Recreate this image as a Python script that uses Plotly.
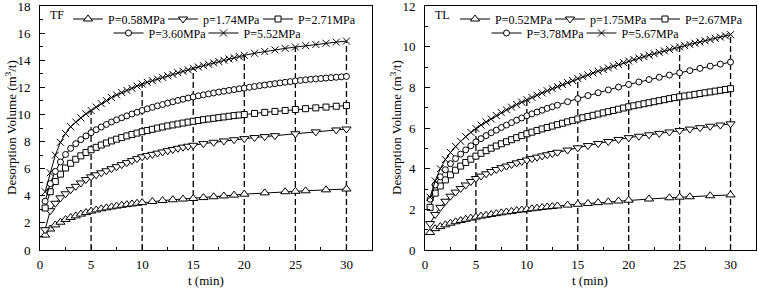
import plotly.graph_objects as go

# ---------------- TF (left panel) ----------------
tf_t_a = [0.5, 1, 1.5, 2, 2.5, 3, 3.5, 4, 4.5, 5, 5.5, 6, 6.5, 7, 7.5, 8, 8.5, 9, 9.5, 10,
          11, 12, 13, 14, 15, 16, 17, 18, 19, 20, 22, 24, 25, 26, 28, 30]
tf_v_a = [1.1, 1.55, 1.85, 2.05, 2.25, 2.4, 2.52, 2.65, 2.76, 2.87, 2.96, 3.04, 3.11, 3.18, 3.24, 3.3, 3.35, 3.4, 3.45, 3.5,
          3.58, 3.65, 3.71, 3.76, 3.8, 3.87, 3.93, 3.99, 4.05, 4.12, 4.22, 4.3, 4.33, 4.37, 4.44, 4.5]

tf_t_b = [0.5, 1, 1.5, 2, 2.5, 3, 3.5, 4, 4.5, 5, 5.5, 6, 6.5, 7, 7.5, 8, 8.5, 9, 9.5, 10,
          10.5, 11, 11.5, 12, 12.5, 13, 13.5, 14, 14.5, 15, 16, 17, 18, 19, 20, 21, 22, 23, 25, 27, 29, 30]
tf_v_b = [1.5, 2.9, 3.45, 3.85, 4.15, 4.45, 4.7, 4.95, 5.2, 5.4, 5.55, 5.7, 5.85, 6.0, 6.15, 6.3, 6.45, 6.6, 6.74, 6.88,
          6.97, 7.06, 7.15, 7.24, 7.33, 7.42, 7.51, 7.59, 7.66, 7.73, 7.85, 7.95, 8.05, 8.14, 8.22, 8.3, 8.37, 8.44, 8.58, 8.72, 8.86, 8.93]

tf_t_c = [0.5, 1, 1.5, 2, 2.5, 3, 3.5, 4, 4.5, 5, 5.5, 6, 6.5, 7, 7.5, 8, 8.5, 9, 9.5, 10,
          10.5, 11, 11.5, 12, 12.5, 13, 13.5, 14, 14.5, 15, 15.5, 16, 16.5, 17, 17.5, 18, 18.5, 19, 19.5, 20,
          21, 22, 23, 24, 25, 26, 27, 28, 29, 30]
tf_v_c = [3.1, 4.3, 5.05, 5.6, 6.05, 6.4, 6.7, 6.95, 7.2, 7.4, 7.58, 7.75, 7.9, 8.05, 8.18, 8.3, 8.42, 8.53, 8.63, 8.73,
          8.82, 8.91, 9.0, 9.08, 9.16, 9.23, 9.3, 9.37, 9.44, 9.5, 9.56, 9.62, 9.67, 9.72, 9.77, 9.82, 9.87, 9.92, 9.96, 10.0,
          10.08, 10.16, 10.23, 10.3, 10.37, 10.43, 10.49, 10.55, 10.61, 10.66]

tf_t_d = [0.5, 1, 1.5, 2, 2.5, 3, 3.5, 4, 4.5, 5, 5.5, 6, 6.5, 7, 7.5, 8, 8.5, 9, 9.5, 10,
          10.5, 11, 11.5, 12, 12.5, 13, 13.5, 14, 14.5, 15, 15.5, 16, 16.5, 17, 17.5, 18, 18.5, 19, 19.5, 20,
          20.5, 21, 21.5, 22, 22.5, 23, 23.5, 24, 24.5, 25, 25.5, 26, 26.5, 27, 27.5, 28, 28.5, 29, 29.5, 30]
tf_v_d = [3.6, 4.9, 5.8, 6.5, 7.05, 7.5, 7.85, 8.15, 8.42, 8.66, 8.88, 9.08, 9.27, 9.45, 9.61, 9.76, 9.9, 10.04, 10.17, 10.3,
          10.42, 10.53, 10.64, 10.74, 10.84, 10.94, 11.04, 11.13, 11.22, 11.3, 11.38, 11.45, 11.52, 11.59, 11.66, 11.72, 11.78, 11.84, 11.9, 11.95,
          12.01, 12.07, 12.13, 12.18, 12.23, 12.28, 12.33, 12.38, 12.43, 12.48, 12.52, 12.56, 12.6, 12.63, 12.66, 12.69, 12.72, 12.75, 12.78, 12.81]

tf_t_e = [0.5, 1, 1.5, 2, 2.5, 3, 3.5, 4, 4.5, 5, 5.5, 6, 6.5, 7, 7.5, 8, 8.5, 9, 9.5, 10,
          10.5, 11, 11.5, 12, 12.5, 13, 13.5, 14, 14.5, 15, 15.5, 16, 16.5, 17, 17.5, 18, 18.5, 19, 19.5, 20,
          21, 22, 23, 24, 25, 26, 27, 28, 29, 30]
tf_v_e = [4.3, 5.7, 7.0, 7.95, 8.6, 9.1, 9.45, 9.75, 10.05, 10.3, 10.55, 10.8, 11.03, 11.25, 11.45, 11.62, 11.78, 11.93, 12.1, 12.25,
          12.38, 12.5, 12.62, 12.74, 12.86, 12.97, 13.08, 13.19, 13.3, 13.41, 13.51, 13.61, 13.71, 13.81, 13.91, 14.01, 14.1, 14.19, 14.28, 14.37,
          14.52, 14.65, 14.77, 14.88, 14.98, 15.08, 15.17, 15.26, 15.34, 15.42]

tf_names = ["P=0.58MPa", "p=1.74MPa", "P=2.71MPa", "P=3.60MPa", "P=5.52MPa"]
tf_guide_t = [5, 10, 15, 20, 25, 30]
tf_guide_top = [10.3, 12.25, 13.41, 14.37, 14.98, 15.42]

# ---------------- TL (right panel) ----------------
tl_t_a = [0.5, 1, 1.5, 2, 2.5, 3, 3.5, 4, 4.5, 5, 5.5, 6, 6.5, 7, 7.5, 8, 8.5, 9, 9.5, 10,
          10.5, 11, 11.5, 12, 12.5, 13, 14, 15, 16, 17, 18, 19, 20, 22, 24, 25, 26, 28, 30]
tl_v_a = [0.86, 1.05, 1.15, 1.24, 1.32, 1.39, 1.45, 1.51, 1.57, 1.62, 1.67, 1.71, 1.75, 1.79, 1.83, 1.87, 1.9, 1.94, 1.97, 2.0,
          2.03, 2.06, 2.09, 2.12, 2.14, 2.17, 2.21, 2.25, 2.29, 2.33, 2.37, 2.41, 2.45, 2.51, 2.57, 2.6, 2.62, 2.67, 2.71]

tl_t_b = [0.5, 1, 1.5, 2, 2.5, 3, 3.5, 4, 4.5, 5, 5.5, 6, 6.5, 7, 7.5, 8, 8.5, 9, 9.5, 10,
          10.5, 11, 11.5, 12, 12.5, 13, 14, 15, 16, 17, 18, 19, 20, 21, 22, 23, 24, 25, 26, 27, 28, 29, 30]
tl_v_b = [1.3, 1.75, 2.1, 2.4, 2.65, 2.85, 3.03, 3.2, 3.37, 3.52, 3.64, 3.75, 3.86, 3.96, 4.05, 4.13, 4.21, 4.29, 4.36, 4.43,
          4.5, 4.57, 4.63, 4.69, 4.75, 4.81, 4.92, 5.03, 5.14, 5.24, 5.34, 5.44, 5.53, 5.6, 5.67, 5.74, 5.81, 5.88, 5.95, 6.02, 6.09, 6.15, 6.21]

tl_t_c = [0.5, 1, 1.5, 2, 2.5, 3, 3.5, 4, 4.5, 5, 5.5, 6, 6.5, 7, 7.5, 8, 8.5, 9, 9.5, 10,
          10.5, 11, 11.5, 12, 12.5, 13, 13.5, 14, 14.5, 15, 15.5, 16, 16.5, 17, 17.5, 18, 18.5, 19, 19.5, 20,
          20.5, 21, 21.5, 22, 22.5, 23, 23.5, 24, 24.5, 25, 25.5, 26, 26.5, 27, 27.5, 28, 28.5, 29, 29.5, 30]
tl_v_c = [2.1, 2.8, 3.15, 3.45, 3.7, 3.93, 4.13, 4.31, 4.47, 4.62, 4.76, 4.89, 5.01, 5.12, 5.23, 5.33, 5.43, 5.53, 5.63, 5.72,
          5.8, 5.88, 5.96, 6.03, 6.1, 6.17, 6.24, 6.31, 6.38, 6.45, 6.51, 6.57, 6.63, 6.69, 6.75, 6.81, 6.87, 6.93, 6.99, 7.05,
          7.1, 7.15, 7.2, 7.25, 7.3, 7.35, 7.4, 7.45, 7.5, 7.54, 7.58, 7.62, 7.66, 7.7, 7.74, 7.78, 7.82, 7.86, 7.9, 7.94]

tl_t_d = [0.5, 1, 1.5, 2, 2.5, 3, 3.5, 4, 4.5, 5, 5.5, 6, 6.5, 7, 7.5, 8, 8.5, 9, 9.5, 10,
          10.5, 11, 11.5, 12, 12.5, 13, 14, 15, 16, 17, 18, 19, 20, 21, 22, 23, 24, 25, 26, 27, 28, 29, 30]
tl_v_d = [2.5, 3.2, 3.6, 3.95, 4.25, 4.5, 4.72, 4.93, 5.13, 5.32, 5.48, 5.63, 5.77, 5.9, 6.03, 6.15, 6.27, 6.39, 6.5, 6.61,
          6.7, 6.79, 6.88, 6.97, 7.05, 7.13, 7.3, 7.45, 7.6, 7.74, 7.88, 8.02, 8.15, 8.27, 8.39, 8.5, 8.61, 8.72, 8.83, 8.94, 9.05, 9.15, 9.25]

tl_t_e = [0.5, 1, 1.5, 2, 2.5, 3, 3.5, 4, 4.5, 5, 5.5, 6, 6.5, 7, 7.5, 8, 8.5, 9, 9.5, 10,
          10.5, 11, 11.5, 12, 12.5, 13, 13.5, 14, 14.5, 15, 15.5, 16, 16.5, 17, 17.5, 18, 18.5, 19, 19.5, 20,
          20.5, 21, 21.5, 22, 22.5, 23, 23.5, 24, 24.5, 25, 25.5, 26, 26.5, 27, 27.5, 28, 28.5, 29, 29.5, 30]
tl_v_e = [2.6, 3.4, 4.0, 4.45, 4.8, 5.1, 5.35, 5.58, 5.79, 5.98, 6.15, 6.3, 6.45, 6.62, 6.76, 6.9, 7.03, 7.16, 7.28, 7.4,
          7.51, 7.62, 7.73, 7.84, 7.94, 8.04, 8.14, 8.24, 8.34, 8.44, 8.53, 8.62, 8.71, 8.8, 8.88, 8.96, 9.05, 9.13, 9.22, 9.3,
          9.38, 9.45, 9.52, 9.59, 9.66, 9.73, 9.8, 9.87, 9.94, 10.0, 10.06, 10.12, 10.18, 10.24, 10.3, 10.36, 10.42, 10.48, 10.54, 10.6]

tl_names = ["P=0.52MPa", "p=1.75MPa", "P=2.67MPa", "P=3.78MPa", "P=5.67MPa"]
tl_guide_t = [5, 10, 15, 20, 25, 30]
tl_guide_top = [5.98, 7.4, 8.44, 9.3, 10.0, 10.6]

x_ticks = [0, 5, 10, 15, 20, 25, 30]
x_minor = [2.5, 7.5, 12.5, 17.5, 22.5, 27.5, 32.5]
x_title = "t (min)"
y_title = "Desorption Volume (m<sup>3</sup>/t)"

symbols = ["triangle-up", "triangle-down", "square", "circle", "x-thin"]
sizes = [8, 8, 6, 6, 7]

FONT = "Liberation Serif"
fig = go.Figure()


def add_panel(xa, ya, ts, vs, names, gt, gtop, legs):
    for t, top in zip(gt, gtop):
        fig.add_trace(go.Scatter(x=[t, t], y=[0, top], mode="lines",
                                 line=dict(color="black", width=1.3, dash="6px,3px"),
                                 showlegend=False, hoverinfo="skip", xaxis=xa, yaxis=ya))
    for i, (t, v, n) in enumerate(zip(ts, vs, names)):
        sym = symbols[i]
        if sym == "x-thin":
            mk = dict(symbol=sym, size=sizes[i], color="black", line=dict(color="black", width=1))
        else:
            mk = dict(symbol=sym, size=sizes[i], color="white", line=dict(color="black", width=1))
        fig.add_trace(go.Scatter(x=t, y=v, mode="lines+markers", name=n,
                                 line=dict(color="black", width=1), marker=mk,
                                 legend=legs[0] if i < 3 else legs[1],
                                 xaxis=xa, yaxis=ya))
    # blank spacer entries so the last legend label is not clipped
    for lg in legs:
        fig.add_trace(go.Scatter(x=[None], y=[None], mode="lines", name=" ",
                                 line=dict(color="rgba(0,0,0,0)", width=0),
                                 legend=lg, hoverinfo="skip", xaxis=xa, yaxis=ya))


add_panel("x", "y", [tf_t_a, tf_t_b, tf_t_c, tf_t_d, tf_t_e],
          [tf_v_a, tf_v_b, tf_v_c, tf_v_d, tf_v_e], tf_names, tf_guide_t, tf_guide_top,
          ["legend", "legend2"])
add_panel("x2", "y2", [tl_t_a, tl_t_b, tl_t_c, tl_t_d, tl_t_e],
          [tl_v_a, tl_v_b, tl_v_c, tl_v_d, tl_v_e], tl_names, tl_guide_t, tl_guide_top,
          ["legend3", "legend4"])

W, H = 758, 290
ydom = [1 - 250 / H, 1 - 6 / H]
axis_common = dict(showline=True, linecolor="black", linewidth=1, mirror=True,
                   ticks="inside", ticklen=5, tickcolor="black", showgrid=False, zeroline=False,
                   ticklabeloverflow="allow",
                   tickfont=dict(family=FONT, size=13, color="black"))
minor_x = dict(tickvals=x_minor, ticks="inside", ticklen=3, tickcolor="black")
minor_y = dict(dtick=1, ticks="inside", ticklen=3, tickcolor="black")

fig.update_layout(
    width=W, height=H, margin=dict(l=0, r=0, t=0, b=0, autoexpand=False),
    paper_bgcolor="white", plot_bgcolor="white",
    font=dict(family=FONT, size=12, color="black"),
    xaxis=dict(domain=[40 / W, 372 / W], range=[0, 32.5], tickvals=x_ticks, minor=minor_x,
               anchor="y", ticklabelstandoff=2, **axis_common),
    yaxis=dict(domain=ydom, range=[0, 18.01], tickvals=[0, 2, 4, 6, 8, 10, 12, 14, 16, 18], minor=minor_y,
               anchor="x", ticklabelstandoff=6, **axis_common),
    xaxis2=dict(domain=[425 / W, 756 / W], range=[0, 32.5], tickvals=x_ticks, minor=minor_x,
                anchor="y2", ticklabelstandoff=2, **axis_common),
    yaxis2=dict(domain=ydom, range=[0, 12.01], tickvals=[0, 2, 4, 6, 8, 10, 12], minor=minor_y,
                anchor="x2", ticklabelstandoff=6, **axis_common),
    showlegend=True,
)

leg_common = dict(orientation="h", bgcolor="rgba(0,0,0,0)", borderwidth=0,
                  font=dict(family=FONT, size=12, color="black"), itemwidth=30,
                  entrywidth=50, entrywidthmode="pixels",
                  xanchor="center", yanchor="middle", tracegroupgap=0, itemclick=False)
fig.update_layout(
    legend=dict(x=258 / W, y=1 - 19 / H, **leg_common),
    legend2=dict(x=251 / W, y=1 - 33 / H, **leg_common),
    legend3=dict(x=645 / W, y=1 - 19 / H, **leg_common),
    legend4=dict(x=629 / W, y=1 - 33 / H, **leg_common),
)

ann_font = dict(family=FONT, size=13, color="black")
for cx in [206, 590]:
    fig.add_annotation(text=x_title, x=cx / W, y=1 - 280 / H, xref="paper", yref="paper",
                       xanchor="center", yanchor="middle", showarrow=False, font=ann_font)
for cx in [11, 396]:
    fig.add_annotation(text=y_title, x=cx / W, y=1 - 128 / H, xref="paper", yref="paper",
                       xanchor="center", yanchor="middle", textangle=-90, showarrow=False, font=ann_font)

fig.add_annotation(text="TF", x=48 / W, y=1 - 15 / H, xref="paper", yref="paper",
                   xanchor="left", yanchor="middle", showarrow=False, font=dict(family=FONT, size=12))
fig.add_annotation(text="TL", x=433 / W, y=1 - 15 / H, xref="paper", yref="paper",
                   xanchor="left", yanchor="middle", showarrow=False, font=dict(family=FONT, size=12))

fig.write_html("out.html", config={"displayModeBar": False},
               post_script="document.body.style.margin='0px';")
